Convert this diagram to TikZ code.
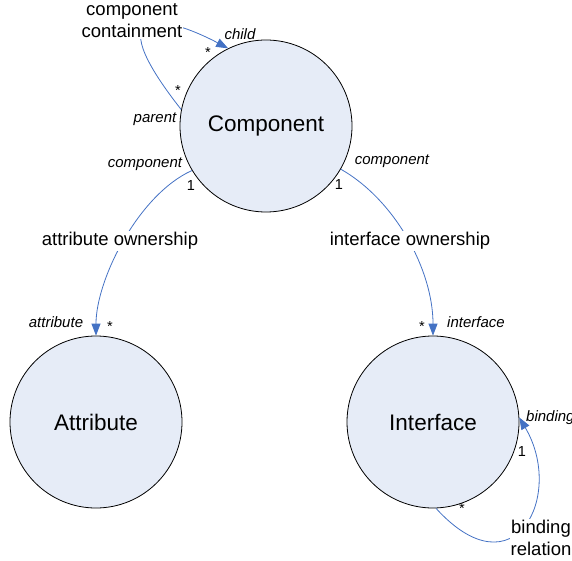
\documentclass[tikz,border=0pt]{standalone}
\usepackage{fontspec}
\setmainfont{Liberation Sans}
\usetikzlibrary{arrows.meta}
\definecolor{linkblue}{RGB}{68,114,196}
\definecolor{classfill}{RGB}{230,236,247}
\begin{document}
\begin{tikzpicture}[x=1pt,y=-1pt,
  entity/.style={circle,draw=black,line width=0.8pt,fill=classfill,minimum size=172pt,inner sep=0pt,font=\fontsize{22.5}{26}\selectfont},
  link/.style={draw=linkblue,line width=0.8pt,-{Triangle[length=12pt,width=9pt]}},
  assoc/.style={fill=white,inner sep=1pt,align=center,font=\fontsize{18.5}{22}\selectfont},
  role/.style={inner sep=0pt,font=\fontsize{15}{17}\selectfont\itshape},
  mult/.style={inner sep=0pt,font=\fontsize{14.5}{16}\selectfont}]
\useasboundingbox (0,0) rectangle (572,561);

% classes
\node[entity] (comp) at (266,126) {Component};
\node[entity] (attr) at (96,422) {Attribute};
\node[entity] (intf) at (433,422) {Interface};

% associations
\draw[link] (comp.169) .. controls (95,0) and (165,15) .. (comp.116);
\draw[link] (comp.211) .. controls (138,195) and (96,280) .. (attr.north);
\draw[link] (comp.330) .. controls (395,200) and (433,270) .. (intf.north);
\draw[link] (intf.272) .. controls (515,595) and (565,495) .. (intf.3);

% association names
\node[assoc] (containment) at (132,21) {component\\containment};
\node[assoc] (attrown) at (120,241) {attribute ownership};
\node[assoc] (intfown) at (410,241) {interface ownership};
\node[assoc] (bindrel) at (541,538) {binding\\relation};

% role names and multiplicities
\node[role] (rchild) at (240,34) {child};
\node[mult] (mchild) at (208,53) {*};
\node[mult] (mparent) at (178,91) {*};
\node[role] (rparent) at (155,119) {parent};
\node[role] (rcompl) at (145,164) {component};
\node[mult] (mcompl) at (191,186) {1};
\node[role] (rcompr) at (392,161) {component};
\node[mult] (mcompr) at (339,185) {1};
\node[role] (rattr) at (56,322) {attribute};
\node[mult] (mattr) at (110,327) {*};
\node[mult] (mintf) at (422,327) {*};
\node[role] (rintf) at (476,322) {interface};
\node[role,anchor=west] (rbind) at (526,418) {binding};
\node[mult] (mbind) at (522,452) {1};
\node[mult] (mbound) at (462,509) {*};
\end{tikzpicture}
\end{document}
